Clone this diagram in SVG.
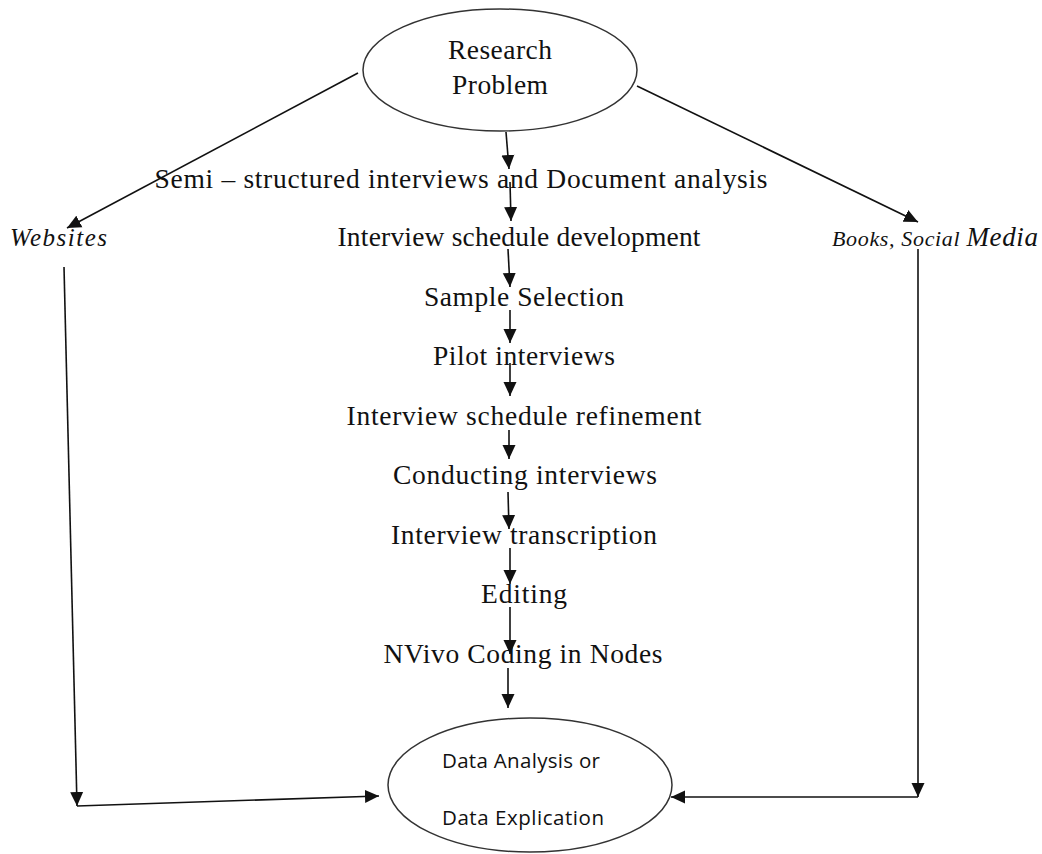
<svg xmlns="http://www.w3.org/2000/svg" width="1042" height="854" viewBox="0 0 1042 854">
<style>
.t{font-family:"Liberation Serif","Times New Roman",serif;font-size:27.5px;fill:#111;text-anchor:middle}
.c{font-family:"Open Sans","Liberation Sans",sans-serif;font-size:20.5px;fill:#111;text-anchor:middle}
.i{font-family:"Liberation Serif","DejaVu Serif",serif;font-style:italic;fill:#111}
.e{fill:#fff;stroke:#333;stroke-width:1.5}
.l{stroke:#111;stroke-width:1.6;fill:none}
</style>
<defs>
<marker id="a" markerUnits="userSpaceOnUse" markerWidth="15" markerHeight="14" refX="14" refY="7" orient="auto">
<path d="M0,0.5 L14,7 L0,13.5 z" fill="#111"/>
</marker>
</defs>
<rect width="1042" height="854" fill="#fff"/>
<g id="connectors">
<line class="l" x1="506" y1="132" x2="509" y2="169" marker-end="url(#a)"/>
<line class="l" x1="510" y1="182" x2="511" y2="221" marker-end="url(#a)"/>
<line class="l" x1="508" y1="249" x2="510" y2="287" marker-end="url(#a)"/>
<line class="l" x1="510" y1="310" x2="510" y2="343" marker-end="url(#a)"/>
<line class="l" x1="510" y1="363" x2="510" y2="396" marker-end="url(#a)"/>
<line class="l" x1="509" y1="430" x2="509" y2="459" marker-end="url(#a)"/>
<line class="l" x1="508" y1="492" x2="509" y2="529" marker-end="url(#a)"/>
<line class="l" x1="510" y1="548" x2="510" y2="584" marker-end="url(#a)"/>
<line class="l" x1="510" y1="607" x2="510" y2="654" marker-end="url(#a)"/>
<line class="l" x1="508" y1="668" x2="508" y2="708" marker-end="url(#a)"/>
<line class="l" x1="358" y1="73" x2="67" y2="228" marker-end="url(#a)"/>
<line class="l" x1="637" y1="86" x2="918" y2="222" marker-end="url(#a)"/>
<line class="l" x1="64" y1="267" x2="77" y2="806" marker-end="url(#a)"/>
<line class="l" x1="77" y1="806" x2="379" y2="796" marker-end="url(#a)"/>
<line class="l" x1="918" y1="249" x2="918" y2="797" marker-end="url(#a)"/>
<line class="l" x1="918" y1="797" x2="671" y2="797" marker-end="url(#a)"/>
</g>
<g id="research-problem">
<ellipse class="e" cx="500" cy="70" rx="137" ry="61"/>
<text class="t" x="500" y="59" textLength="104">Research</text>
<text class="t" x="500" y="94" textLength="96">Problem</text>
</g>
<g id="semi-structured">
<text class="t" x="461" y="188" textLength="613">Semi – structured interviews and Document analysis</text>
</g>
<g id="websites">
<text class="i" x="10" y="246" font-size="25" textLength="97">Websites</text>
</g>
<g id="books-social-media">
<text class="i" x="832" y="246" font-size="22" textLength="206">Books, Social <tspan font-size="27">Media</tspan></text>
</g>
<g id="schedule-development"><text class="t" x="519" y="246" textLength="363">Interview schedule development</text></g>
<g id="sample-selection"><text class="t" x="524" y="306" textLength="200">Sample Selection</text></g>
<g id="pilot-interviews"><text class="t" x="524" y="365" textLength="182">Pilot interviews</text></g>
<g id="schedule-refinement"><text class="t" x="524" y="425" textLength="355">Interview schedule refinement</text></g>
<g id="conducting-interviews"><text class="t" x="525" y="484" textLength="264">Conducting interviews</text></g>
<g id="interview-transcription"><text class="t" x="524" y="544" textLength="266">Interview transcription</text></g>
<g id="editing"><text class="t" x="524" y="603" textLength="86">Editing</text></g>
<g id="nvivo-coding"><text class="t" x="523" y="663" textLength="279">NVivo Coding in Nodes</text></g>
<g id="data-analysis">
<ellipse class="e" cx="530" cy="785" rx="142" ry="67"/>
<text class="c" x="521" y="768" textLength="158">Data Analysis or</text>
<text class="c" x="523" y="825" textLength="162">Data Explication</text>
</g>
</svg>
